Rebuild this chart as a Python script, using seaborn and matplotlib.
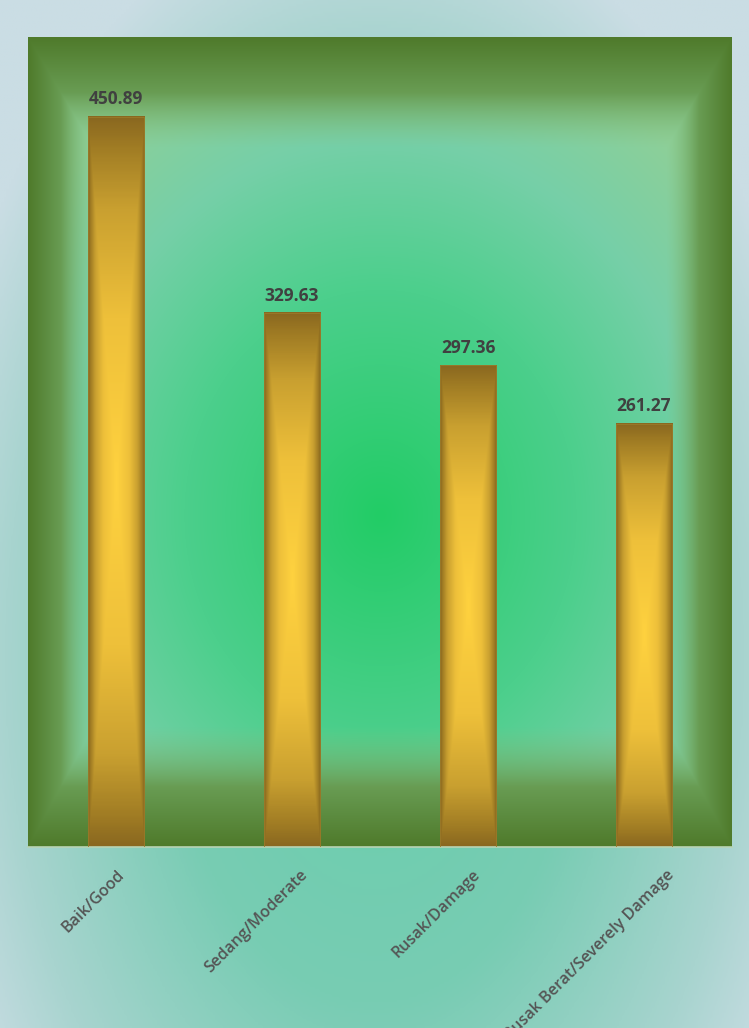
import numpy as np
import pandas as pd
import seaborn as sns
import matplotlib.pyplot as plt
from matplotlib.colors import LinearSegmentedColormap, to_rgb
from matplotlib import transforms

# data
categories = ["Baik/Good", "Sedang/Moderate", "Rusak/Damage", "Rusak Berat/Severely Damage"]
values = [450.89, 329.63, 297.36, 261.27]

df = pd.DataFrame({"kondisi": categories, "panjang": values})

sns.set_style("white")
plt.rcParams['font.family'] = ['Open Sans', 'DejaVu Sans']

W, H = 749, 1028
fig = plt.figure(figsize=(W / 100, H / 100), dpi=100)


def lerp(c1, c2, t):
    c1 = np.array(to_rgb(c1))
    c2 = np.array(to_rgb(c2))
    t = np.clip(t, 0, 1)[..., None]
    return c1 * (1 - t) + c2 * t


# figure background - soft radial teal gradient
bg_ax = fig.add_axes([0, 0, 1, 1], zorder=-10)
yy, xx = np.mgrid[0:1:400j, 0:1:300j]
r = np.sqrt(((xx - 0.5) / 0.62) ** 2 + ((yy - 0.36) / 0.75) ** 2)
bg_cmap = LinearSegmentedColormap.from_list(
    "bg", [(0, "#68cfac"), (0.45, "#78ccb3"), (0.8, "#a8d4cf"), (1, "#cadde4")])
bg_ax.imshow(bg_cmap(np.clip(r, 0, 1)), extent=[0, 1, 0, 1], origin="lower", aspect="auto")
bg_ax.axis("off")

ax = fig.add_axes([28 / W, 1 - 847 / H, 704 / W, 810 / H])
ax.patch.set_alpha(0)

sns.barplot(data=df, x="kondisi", y="panjang", width=0.32, ax=ax, zorder=3)

ax.set_xlim(-0.5, len(categories) - 0.5)
ax.set_ylim(0, 500)

# plot area gradient: green centre glow + beveled olive edges
ph, pw = 810, 704
py, px = np.mgrid[0:ph, 0:pw]
cx, cy = pw * 0.5, ph * 0.59
rr = np.sqrt(((px - cx) / (pw * 0.62)) ** 2 + ((py - cy) / (ph * 0.62)) ** 2)
glow = LinearSegmentedColormap.from_list(
    "glow", [(0, "#22cc66"), (0.45, "#4ccf8c"), (0.75, "#76cfa8"), (1, "#8ecf98")])
base = glow(np.clip(rr, 0, 1))[..., :3]
e_left = np.clip(1 - px / 65, 0, 1)
e_right = np.clip(1 - (pw - 1 - px) / 65, 0, 1)
e_top = np.clip(1 - py / 110, 0, 1)
e_bot = np.clip(1 - (ph - 1 - py) / 120, 0, 1)
w = np.maximum.reduce([e_left, e_right, e_top, e_bot])
bevel = lerp("#86c482", "#4f7a2b", w ** 0.9)
alpha = np.clip(w * 2.0, 0, 1)[..., None]
area = base * (1 - alpha) + bevel * alpha
ax.imshow(area, extent=[-0.5, len(categories) - 0.5, 0, 500], origin="upper",
          aspect="auto", zorder=0)

# golden gradient inside every bar
bv, bu = np.mgrid[-1:1:300j, -1:1:60j]
t = np.maximum(np.abs(bu), np.abs(bv))
gold = LinearSegmentedColormap.from_list(
    "gold", [(0, "#ffd23f"), (0.45, "#eec03a"), (0.75, "#c9a030"), (0.92, "#a07c24"), (1, "#8a6820")])
for patch in ax.patches:
    x0 = patch.get_x()
    x1 = x0 + patch.get_width()
    h = patch.get_height()
    patch.set_facecolor("none")
    patch.set_edgecolor("#9a7a2a")
    patch.set_linewidth(0.6)
    ax.imshow(gold(t), extent=[x0, x1, 0, h], origin="lower", aspect="auto", zorder=2)

ax.set_xlim(-0.5, len(categories) - 0.5)
ax.set_ylim(0, 500)

ax.bar_label(ax.containers[0], fmt="%.2f", padding=6, fontsize=12.5,
             fontweight="bold", color="#404040")

ax.set_yticks([])
ax.set_xlabel("")
ax.set_ylabel("")
ax.tick_params(axis="x", length=0)
ax.set_xticks(range(len(categories)))
ax.set_xticklabels([])
for s in ax.spines.values():
    s.set_visible(False)
ax.spines["bottom"].set_visible(True)
ax.spines["bottom"].set_color("#b8d4b4")
ax.spines["bottom"].set_linewidth(1.2)

# rotated category labels (excel style, slightly right of the tick)
trans = transforms.blended_transform_factory(ax.transData, ax.transAxes)
for i, lab in enumerate(categories):
    shift = transforms.ScaledTranslation((1.2 * len(lab) - 10) / 100, 0, fig.dpi_scale_trans)
    ax.text(i, -20 / 810, lab, transform=trans + shift, rotation=45,
            rotation_mode="anchor", ha="right", va="top", fontsize=11.6,
            fontweight="semibold", color="#555555")

fig.savefig("out.png", dpi=100)
